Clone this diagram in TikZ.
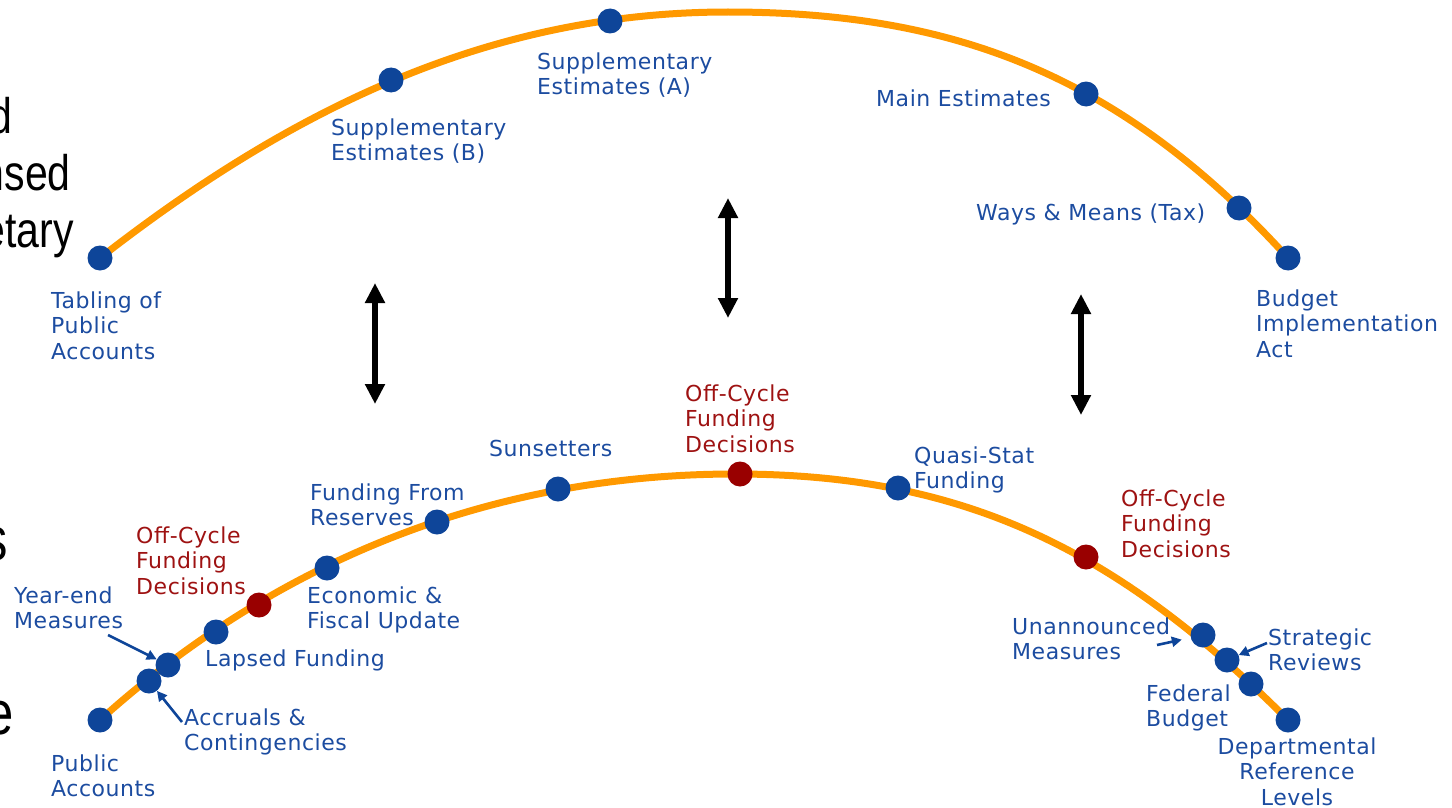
\documentclass[tikz,border=0pt]{standalone}
\usepackage{fontspec}
\usetikzlibrary{arrows.meta}
\newfontfamily\labfont{DejaVu Sans}[LetterSpace=2.5]
\newfontfamily\blkfont{Liberation Sans}[FakeStretch=0.82]
\definecolor{arcorange}{RGB}{255,153,0}
\definecolor{dotblue}{RGB}{14,69,153}
\definecolor{textblue}{RGB}{28,76,160}
\definecolor{dotred}{RGB}{153,0,0}
\definecolor{textred}{RGB}{158,18,18}
\tikzset{
  arc/.style={draw=arcorange, line width=7bp, line cap=round},
  bdot/.style={circle, fill=dotblue, minimum size=25bp, inner sep=0pt},
  rdot/.style={circle, fill=dotred, minimum size=25bp, inner sep=0pt},
  lab/.style={anchor=north west, inner sep=0pt, align=left, text=textblue,
    font=\labfont\fontsize{22bp}{25.5bp}\selectfont},
  rlab/.style={lab, text=textred},
  blk/.style={anchor=base east, inner sep=0pt, text=black},
  bigarrow/.style={draw=black, line width=6bp, {Triangle[width=19bp,length=20bp]}-{Triangle[width=19bp,length=20bp]}},
  smallarrow/.style={draw=dotblue, line width=2.6bp, -{Triangle[width=10bp,length=10bp]}}
}
\begin{document}
\begin{tikzpicture}[x=1bp,y=-1bp]
\useasboundingbox (0,0) rectangle (1452,807);
\clip (0,0) rectangle (1452,807);

% black cut-off text on the left
\node[blk, font=\blkfont\fontsize{50bp}{57bp}\selectfont] (k1) at (13,133) {d};
\node[blk, font=\blkfont\fontsize{50bp}{57bp}\selectfont] (k2) at (71,190) {nsed};
\node[blk, font=\blkfont\fontsize{50bp}{57bp}\selectfont] (k3) at (74,247) {etary};
\node[blk, font=\blkfont\fontsize{62bp}{70bp}\selectfont] (k4) at (8,560) {s};
\node[blk, font=\blkfont\fontsize{62bp}{70bp}\selectfont] (k5) at (14,734) {e};

% top arc
\coordinate (t1) at (100,258);
\coordinate (t2) at (391,80);
\coordinate (t3) at (610,21);
\coordinate (tapex) at (728,12);
\coordinate (t4) at (1086,94);
\coordinate (t5) at (1239,208);
\coordinate (t6) at (1288,258);
\draw[arc] (t1) .. controls (300,102) and (498,12) .. (tapex)
               .. controls (948,12) and (1118,71) .. (t6);

% bottom arc
\coordinate (b1) at (100,720);
\coordinate (b2) at (149,681);
\coordinate (b3) at (168,665);
\coordinate (b4) at (216,632);
\coordinate (b5) at (259,605);
\coordinate (b6) at (327,568);
\coordinate (b7) at (437,522);
\coordinate (b8) at (558,489);
\coordinate (b9) at (740,474);
\coordinate (b10) at (898,488);
\coordinate (b11) at (1086,557);
\coordinate (b12) at (1203,635);
\coordinate (b13) at (1227,660);
\coordinate (b14) at (1251,684);
\coordinate (b15) at (1288,720);
\coordinate (bapex) at (735,474);
\draw[arc] (b1) .. controls (320,522) and (555,474) .. (bapex)
               .. controls (965,474) and (1118,550) .. (b15);

% dots
\node[bdot] (T1) at (t1) {};
\node[bdot] (T2) at (t2) {};
\node[bdot] (T3) at (t3) {};
\node[bdot] (T4) at (t4) {};
\node[bdot] (T5) at (t5) {};
\node[bdot] (T6) at (t6) {};
\node[bdot] (B1) at (b1) {};
\node[bdot] (B2) at (b2) {};
\node[bdot] (B3) at (b3) {};
\node[bdot] (B4) at (b4) {};
\node[rdot] (B5) at (b5) {};
\node[bdot] (B6) at (b6) {};
\node[bdot] (B7) at (b7) {};
\node[bdot] (B8) at (b8) {};
\node[rdot] (B9) at (b9) {};
\node[bdot] (B10) at (b10) {};
\node[rdot] (B11) at (b11) {};
\node[bdot] (B12) at (b12) {};
\node[bdot] (B13) at (b13) {};
\node[bdot] (B14) at (b14) {};
\node[bdot] (B15) at (b15) {};

% top labels
\node[lab] (lTab) at (51,291.3) {Tabling of\\Public\\Accounts};
\node[lab] (lSupB) at (331,118.3) {Supplementary\\Estimates (B)};
\node[lab] (lSupA) at (537,52.3) {Supplementary\\Estimates (A)};
\node[lab] (lMain) at (876,89.3) {Main Estimates};
\node[lab] (lWays) at (976,203.3) {Ways \& Means (Tax)};
\node[lab] (lBia) at (1256,289.3) {Budget\\Implementation\\Act};

% bottom labels
\node[rlab] (lOffC) at (685,384.3) {Off-Cycle\\Funding\\Decisions};
\node[lab] (lSun) at (489,440.3) {Sunsetters};
\node[lab] (lFfr) at (310,483.3) {Funding From\\Reserves};
\node[lab] (lQsf) at (914,446.3) {Quasi-Stat\\Funding};
\node[rlab] (lOffR) at (1121,489.3) {Off-Cycle\\Funding\\Decisions};
\node[rlab] (lOffL) at (136,526.3) {Off-Cycle\\Funding\\Decisions};
\node[lab] (lEfu) at (307,586.3) {Economic \&\\Fiscal Update};
\node[lab] (lYem) at (14,586.3) {Year-end\\Measures};
\node[lab] (lLap) at (205,649.3) {Lapsed Funding};
\node[lab] (lAcc) at (184,708.3) {Accruals \&\\Contingencies};
\node[lab] (lPub) at (51,754.3) {Public\\Accounts};
\node[lab] (lUnm) at (1012,617.3) {Unannounced\\Measures};
\node[lab] (lStr) at (1268,628.3) {Strategic\\Reviews};
\node[lab] (lFed) at (1146,684.3) {Federal\\Budget};
\node[lab, anchor=north, align=center] (lDep) at (1297,737.3) {Departmental\\Reference\\Levels};

% big double arrows
\coordinate (aL1) at (375,283);
\coordinate (aL2) at (375,404);
\coordinate (aC1) at (728,198);
\coordinate (aC2) at (728,318);
\coordinate (aR1) at (1081,294);
\coordinate (aR2) at (1081,415);
\draw[bigarrow] (aL1) -- (aL2);
\draw[bigarrow] (aC1) -- (aC2);
\draw[bigarrow] (aR1) -- (aR2);

% small pointer arrows
\coordinate (pYe) at (108,635);
\coordinate (pAc) at (182,722);
\coordinate (pUn) at (1157,645);
\coordinate (pSt) at (1267,643);
\draw[smallarrow] (pYe) -- (B3);
\draw[smallarrow] (pAc) -- (B2);
\draw[smallarrow, shorten >=9bp] (pUn) -- (B12);
\draw[smallarrow] (pSt) -- (B13);
\end{tikzpicture}
\end{document}
